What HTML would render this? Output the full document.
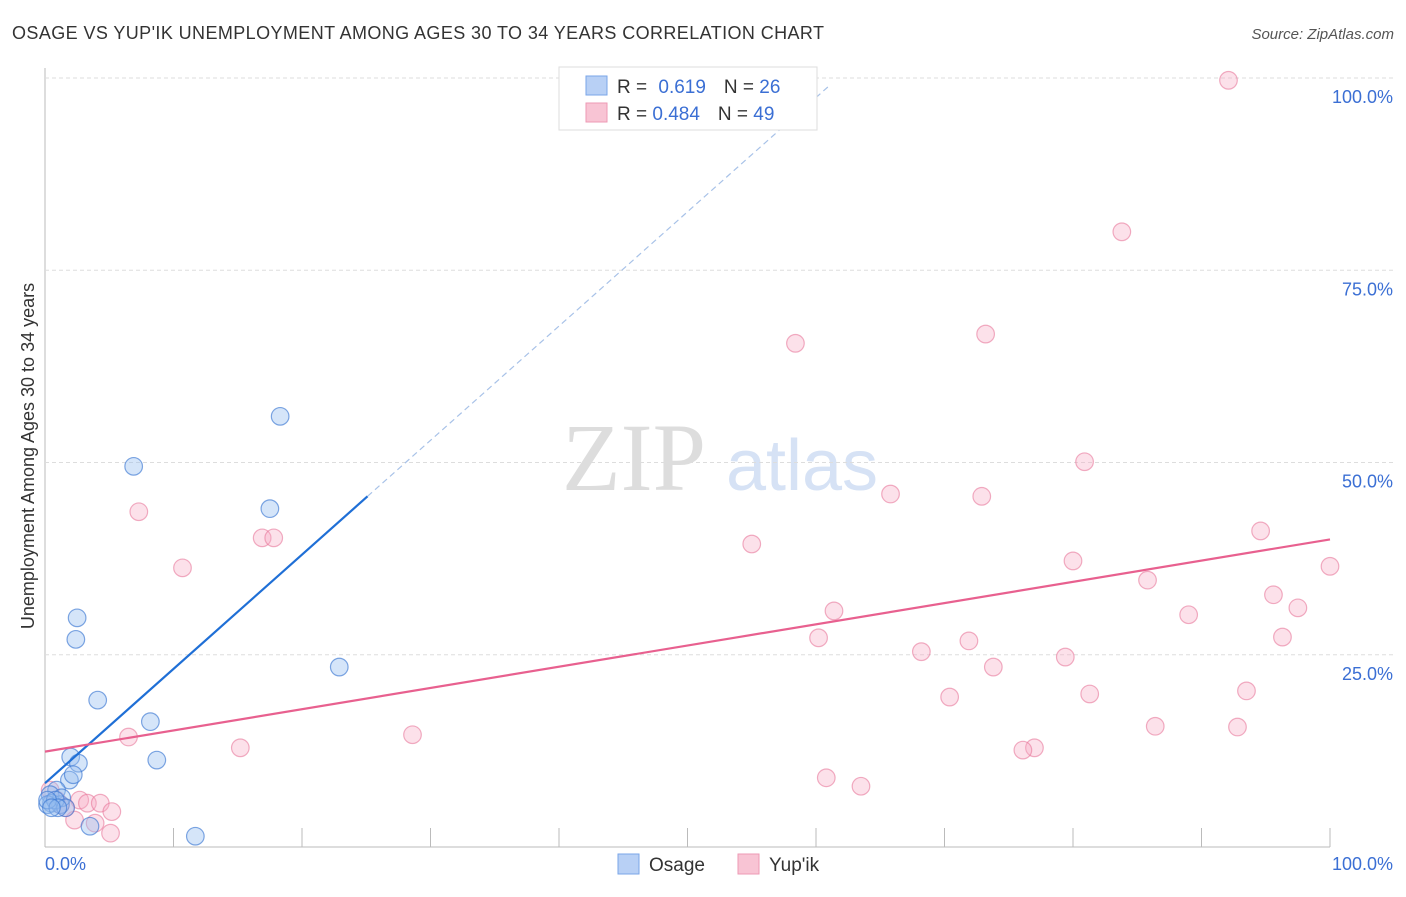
<!DOCTYPE html>
<html><head><meta charset="utf-8"><style>
body{margin:0;background:#fff;font-family:"Liberation Sans",sans-serif}
</style></head><body>
<svg id="c" width="1406" height="892" xmlns="http://www.w3.org/2000/svg">
<text x="12" y="39" font-size="18" fill="#333" textLength="812">OSAGE VS YUP'IK UNEMPLOYMENT AMONG AGES 30 TO 34 YEARS CORRELATION CHART</text>
<text x="1394" y="39" font-size="15" fill="#555" text-anchor="end" font-style="italic">Source: ZipAtlas.com</text>
<text x="634" y="490" font-size="96" fill="#ddd" font-family="Liberation Serif" text-anchor="middle">ZIP</text>
<text x="802" y="490" font-size="72" fill="#d6e2f5" text-anchor="middle">atlas</text>
<text transform="translate(34,456) rotate(-90)" font-size="18" fill="#333" text-anchor="middle">Unemployment Among Ages 30 to 34 years</text>
<g id="grid"></g><g id="marks"></g>
<g>
<rect x="559" y="67" width="258" height="63" fill="#fff" stroke="#ddd"/>
<rect x="586" y="76" width="21" height="19" fill="#b8d0f5" stroke="#7aa6e8"/>
<rect x="586" y="103" width="21" height="19" fill="#f8c4d4" stroke="#ee9ab4"/>
<text x="617" y="93" font-size="19" fill="#333">R = <tspan fill="#3b6fd4" dx="6">0.619</tspan><tspan dx="18" fill="#333">N = </tspan><tspan fill="#3b6fd4">26</tspan></text>
<text x="617" y="120" font-size="19" fill="#333">R = <tspan fill="#3b6fd4">0.484</tspan><tspan dx="18" fill="#333">N = </tspan><tspan fill="#3b6fd4">49</tspan></text>
</g>
<g>
<rect x="618" y="854" width="21" height="20" fill="#b8d0f5" stroke="#7aa6e8"/>
<text x="649" y="871" font-size="19" fill="#333">Osage</text>
<rect x="738" y="854" width="21" height="20" fill="#f8c4d4" stroke="#ee9ab4"/>
<text x="769" y="871" font-size="19" fill="#333">Yup'ik</text>
</g>
</svg>
<script>
const yTicks=[25,50,75,100];
const yTickLabels=["25.0%","50.0%","75.0%","100.0%"];
const osageX=[18.3,6.9,17.5,2.5,2.4,22.9,4.1,8.2,8.7,2.0,2.6,1.9,2.2,0.9,0.4,0.5,1.2,0.2,1.3,3.5,11.7,0.8,0.2,1.6,1.0,0.5];
const osageY=[56.0,49.5,44.0,29.8,27.0,23.4,19.1,16.3,11.3,11.7,10.9,8.7,9.4,7.4,6.8,5.7,5.5,5.5,6.4,2.7,1.4,6.1,6.1,5.1,5.1,5.1];
const yupikX=[92.1,83.8,73.2,58.4,80.9,65.8,72.9,7.3,16.9,17.8,94.6,55.0,10.7,100,80.0,85.8,95.6,61.4,97.5,89.0,96.3,60.2,71.9,68.2,79.4,73.8,93.5,70.4,81.3,86.4,92.8,28.6,6.5,15.2,77.0,76.1,60.8,63.5,0.9,2.7,3.3,4.3,5.2,2.3,3.9,5.1,0.4,1.2,1.6];
const yupikY=[99.7,80.0,66.7,65.5,50.1,45.9,45.6,43.6,40.2,40.2,41.1,39.4,36.3,36.5,37.2,34.7,32.8,30.7,31.1,30.2,27.3,27.2,26.8,25.4,24.7,23.4,20.3,19.5,19.9,15.7,15.6,14.6,14.3,12.9,12.9,12.6,9.0,7.9,6.1,6.1,5.7,5.7,4.6,3.5,3.1,1.8,7.4,5.5,5.1];
const osageFit=[8.3,1.486];
const yupikFit=[12.4,0.276];
const X=v=>45+v*12.85, Y=v=>847-v*7.69;
const NS="http://www.w3.org/2000/svg";
function mk(t,a,p){const e=document.createElementNS(NS,t);for(const k in a)e.setAttribute(k,a[k]);p.appendChild(e);return e;}
const g=document.getElementById('grid'),m=document.getElementById('marks');
mk('line',{x1:45,y1:68,x2:45,y2:847,stroke:'#bbb'},g);
mk('line',{x1:45,y1:847,x2:1330,y2:847,stroke:'#bbb'},g);
yTicks.forEach((t,i)=>{const l=mk('line',{x1:45,y1:Y(t),x2:1395,y2:Y(t),stroke:'#ddd','stroke-dasharray':'4,3'},g);


const tx=mk('text',{x:1393,y:Y(t)+25,'font-size':18,fill:'#3b6fd4','text-anchor':'end'},g);tx.textContent=yTickLabels[i];

});
for(let i=1;i<=10;i++){const l=mk('line',{x1:X(i*10),y1:828,x2:X(i*10),y2:847,stroke:'#bbb'},g);

}
const t0=mk('text',{x:45,y:870,'font-size':18,fill:'#3b6fd4'},g);t0.textContent='0.0%';


const t1=mk('text',{x:1393,y:870,'font-size':18,fill:'#3b6fd4','text-anchor':'end'},g);t1.textContent='100.0%';


yupikX.forEach((x,i)=>{const c=mk('circle',{cx:X(x),cy:Y(yupikY[i]),r:8.8,fill:'rgba(246,170,195,0.35)',stroke:'rgba(232,120,155,0.6)','stroke-width':1.2},m);

});
osageX.forEach((x,i)=>{const c=mk('circle',{cx:X(x),cy:Y(osageY[i]),r:8.8,fill:'rgba(150,190,240,0.4)',stroke:'rgba(60,120,210,0.65)','stroke-width':1.2},m);

});
const l1=mk('line',{x1:X(0),y1:Y(osageFit[0]),x2:X(25.1),y2:Y(osageFit[0]+osageFit[1]*25.1),stroke:'#1f6fd6','stroke-width':2.2},m);


const l1d=mk('line',{x1:X(25.1),y1:Y(osageFit[0]+osageFit[1]*25.1),x2:X(61.1),y2:Y(osageFit[0]+osageFit[1]*61.1),stroke:'#a8c2e8','stroke-width':1.2,'stroke-dasharray':'6,4'},m);


const l2=mk('line',{x1:X(0),y1:Y(yupikFit[0]),x2:X(100),y2:Y(yupikFit[0]+yupikFit[1]*100),stroke:'#e8608f','stroke-width':2.2},m);


</script>
</body></html>
